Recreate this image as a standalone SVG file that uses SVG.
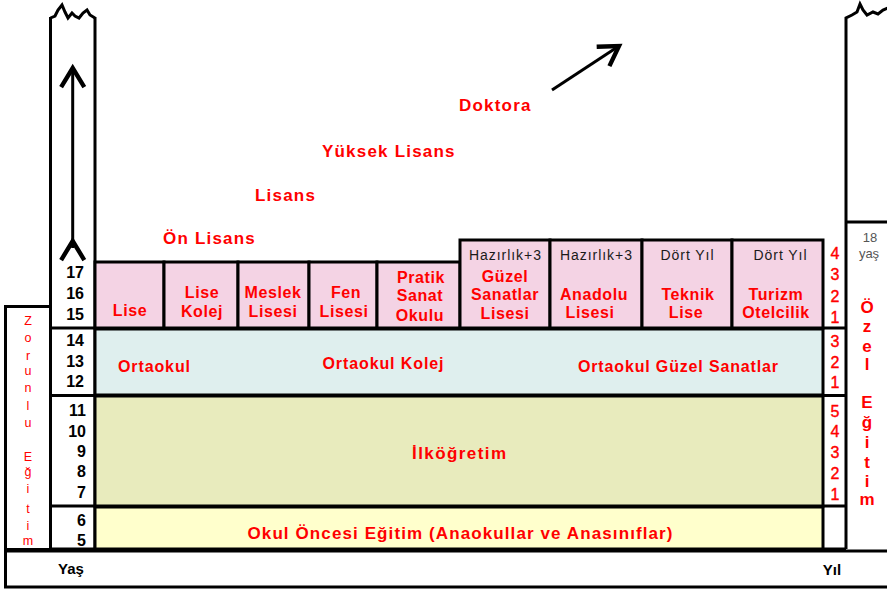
<svg xmlns="http://www.w3.org/2000/svg" width="887" height="590" viewBox="0 0 887 590">
<defs>
<marker id="chev" markerUnits="userSpaceOnUse" markerWidth="30" markerHeight="30" refX="0" refY="0" viewBox="-16 -11 20 22" orient="auto" overflow="visible">
<path d="M-14,-8.5 L0,0 L-14,8.5" fill="none" stroke="#000" stroke-width="3.2" stroke-linejoin="miter"/>
</marker>
</defs>
<style>
.ln{fill:none;stroke:#000;stroke-width:3}
.cell{stroke:#000;stroke-width:3}
.pk{fill:#F4D3E4}
.bl{fill:#DFEFEE}
.ol{fill:#E8EBBD}
.ye{fill:#FFFFCC}
.r{font-family:"Liberation Sans",Arial,sans-serif;font-weight:bold;fill:#FF0000;text-anchor:middle}
.c{font-size:16px;letter-spacing:0.6px}
.big{font-size:17px;letter-spacing:1.2px;text-anchor:start}
.m{font-size:16px}
.h{font-family:"Liberation Sans",Arial,sans-serif;font-size:14px;fill:#1a1a1a;text-anchor:middle}
.age{font-family:"Liberation Sans",Arial,sans-serif;font-weight:bold;font-size:16px;fill:#000;text-anchor:end}
.yr{font-family:"Liberation Sans",Arial,sans-serif;font-size:16px;fill:#FF0000;text-anchor:middle;stroke:#FF0000;stroke-width:0.4}
.zv{font-family:"Liberation Sans",Arial,sans-serif;font-size:12.5px;fill:#FF0000;text-anchor:middle}
.ov{font-family:"Liberation Sans",Arial,sans-serif;font-weight:bold;font-size:17px;fill:#FF0000;text-anchor:middle}
.k{font-family:"Liberation Sans",Arial,sans-serif;font-weight:bold;font-size:15px;fill:#000;text-anchor:middle}
.g{font-family:"Liberation Sans",Arial,sans-serif;font-size:13px;fill:#555;text-anchor:middle}
</style>
<rect width="887" height="590" fill="#FFFFFF"/>

<g id="age-column">
<path class="ln" d="M50.5,18 L55,16 L58,10 L62,5 L65,12 L68,18 L72,13 L75,16 L79,18 L83,13 L87,10 L90,15 L95,18"/>
<path class="ln" d="M50.5,17 V549 M95,17 V549 M50.5,328 H95 M50.5,395.5 H95 M50.5,506 H95 M50.5,549 H95"/>
<text class="age" x="84" y="278">17</text>
<text class="age" x="84" y="299">16</text>
<text class="age" x="84" y="320">15</text>
<text class="age" x="84" y="346">14</text>
<text class="age" x="84" y="367">13</text>
<text class="age" x="84" y="387">12</text>
<text class="age" x="86" y="416">11</text>
<text class="age" x="86" y="437">10</text>
<text class="age" x="86" y="457">9</text>
<text class="age" x="86" y="477">8</text>
<text class="age" x="86" y="498">7</text>
<text class="age" x="86" y="526">6</text>
<text class="age" x="86" y="546">5</text>
</g>

<g id="zorunlu">
<rect x="5.5" y="306.5" width="45" height="243" fill="#FFFFFF" stroke="#000" stroke-width="3"/>
<text class="zv" x="28" y="325">Z</text>
<text class="zv" x="28" y="342">o</text>
<text class="zv" x="28" y="360">r</text>
<text class="zv" x="28" y="375">u</text>
<text class="zv" x="28" y="392">n</text>
<text class="zv" x="28" y="410">l</text>
<text class="zv" x="28" y="427">u</text>
<text class="zv" x="28" y="461">E</text>
<text class="zv" x="28" y="476">ğ</text>
<text class="zv" x="28" y="493">i</text>
<text class="zv" x="28" y="513">t</text>
<text class="zv" x="28" y="530">i</text>
<text class="zv" x="28" y="545">m</text>
</g>

<g id="higher-ed">
<text class="r big" x="163" y="244">Ön Lisans</text>
<text class="r big" x="255" y="201">Lisans</text>
<text class="r big" x="322" y="157">Yüksek Lisans</text>
<text class="r big" x="459" y="111">Doktora</text>
</g>

<g id="lise">
<rect class="cell pk" x="95" y="262" width="69" height="66"/>
<text class="r c" x="130" y="316">Lise</text>
</g>
<g id="lise-kolej">
<rect class="cell pk" x="164" y="262" width="74" height="66"/>
<text class="r c" x="202" y="298">Lise</text>
<text class="r c" x="202" y="317">Kolej</text>
</g>
<g id="meslek-lisesi">
<rect class="cell pk" x="238" y="262" width="71" height="66"/>
<text class="r c" x="273" y="298">Meslek</text>
<text class="r c" x="273" y="317">Lisesi</text>
</g>
<g id="fen-lisesi">
<rect class="cell pk" x="309" y="262" width="68" height="66"/>
<text class="r c" x="346" y="298">Fen</text>
<text class="r c" x="344" y="317">Lisesi</text>
</g>
<g id="pratik-sanat">
<rect class="cell pk" x="377" y="262" width="83" height="66"/>
<text class="r c" x="421" y="283">Pratik</text>
<text class="r c" x="420" y="301">Sanat</text>
<text class="r c" x="420" y="321">Okulu</text>
</g>
<g id="guzel-sanatlar">
<rect class="cell pk" x="460" y="240" width="90" height="88"/>
<text class="h" x="505" y="260" textLength="72" lengthAdjust="spacing">Hazırlık+3</text>
<text class="r c" x="505" y="282">Güzel</text>
<text class="r c" x="505" y="300">Sanatlar</text>
<text class="r c" x="505" y="319">Lisesi</text>
</g>
<g id="anadolu">
<rect class="cell pk" x="550" y="240" width="92" height="88"/>
<text class="h" x="596" y="260" textLength="72" lengthAdjust="spacing">Hazırlık+3</text>
<text class="r c" x="594" y="300">Anadolu</text>
<text class="r c" x="590" y="318">Lisesi</text>
</g>
<g id="teknik">
<rect class="cell pk" x="642" y="240" width="90" height="88"/>
<text class="h" x="687" y="260" textLength="53" lengthAdjust="spacing">Dört Yıl</text>
<text class="r c" x="688" y="300">Teknik</text>
<text class="r c" x="686" y="318">Lise</text>
</g>
<g id="turizm">
<rect class="cell pk" x="732" y="240" width="91" height="88"/>
<text class="h" x="780" y="260" textLength="53" lengthAdjust="spacing">Dört Yıl</text>
<text class="r c" x="776" y="300">Turizm</text>
<text class="r c" x="776" y="318">Otelcilik</text>
</g>

<g id="ortaokul">
<rect class="cell bl" x="95" y="329" width="728" height="66"/>
<text class="r m" x="154" y="372" textLength="72" lengthAdjust="spacing">Ortaokul</text>
<text class="r m" x="383" y="369" textLength="121" lengthAdjust="spacing">Ortaokul Kolej</text>
<text class="r m" x="678" y="372" textLength="200" lengthAdjust="spacing">Ortaokul Güzel Sanatlar</text>
</g>

<g id="ilkogretim">
<rect class="cell ol" x="95" y="396" width="728" height="110"/>
<text class="r" x="459" y="459" font-size="17" textLength="94" lengthAdjust="spacing">İlköğretim</text>
</g>

<g id="okul-oncesi">
<rect class="cell ye" x="95" y="507" width="728" height="42"/>
<text class="r" x="460" y="539" font-size="17" textLength="425" lengthAdjust="spacing">Okul Öncesi Eğitim (Anaokullar ve Anasınıflar)</text>
</g>

<g id="years-column">
<path class="ln" d="M823,328 H846 M823,395.5 H846 M823,506 H846 M823,549 H846"/>
<text class="yr" x="835" y="259">4</text>
<text class="yr" x="835" y="280">3</text>
<text class="yr" x="835" y="302">2</text>
<text class="yr" x="835" y="323">1</text>
<text class="yr" x="835" y="347">3</text>
<text class="yr" x="835" y="368">2</text>
<text class="yr" x="835" y="388">1</text>
<text class="yr" x="835" y="417">5</text>
<text class="yr" x="835" y="437">4</text>
<text class="yr" x="835" y="458">3</text>
<text class="yr" x="835" y="479">2</text>
<text class="yr" x="835" y="500">1</text>
</g>

<g id="ozel-egitim">
<path class="ln" d="M846,549 V18 L852,15 L857,12 L860,4 L863,10 L867,15 L873,12 L878,14 L883,10 L888,8"/>
<path class="ln" d="M846,222 H888"/>
<text class="g" x="870" y="242">18</text>
<text class="g" x="869" y="258">yaş</text>
<text class="ov" x="867" y="313">Ö</text>
<text class="ov" x="867" y="332">z</text>
<text class="ov" x="867" y="352">e</text>
<text class="ov" x="867" y="370">l</text>
<text class="ov" x="867" y="408">E</text>
<text class="ov" x="867" y="428">ğ</text>
<text class="ov" x="867" y="448">i</text>
<text class="ov" x="867" y="468">t</text>
<text class="ov" x="867" y="487">i</text>
<text class="ov" x="867" y="505">m</text>
</g>

<g id="axis">
<rect x="5.5" y="551" width="890" height="36" fill="#FFFFFF" stroke="#000" stroke-width="3"/>
<text class="k" x="71" y="574">Yaş</text>
<text class="k" x="832" y="575">Yıl</text>
</g>

<g id="connectors" fill="none" stroke="#000" stroke-width="3">
<line x1="72.7" y1="241" x2="72.7" y2="68" marker-start="url(#chev)" marker-end="url(#chev)"/>
<line x1="72.7" y1="248" x2="72.7" y2="241"/>
<line x1="552" y1="90" x2="619" y2="46" marker-end="url(#chev)"/>
</g>
</svg>
